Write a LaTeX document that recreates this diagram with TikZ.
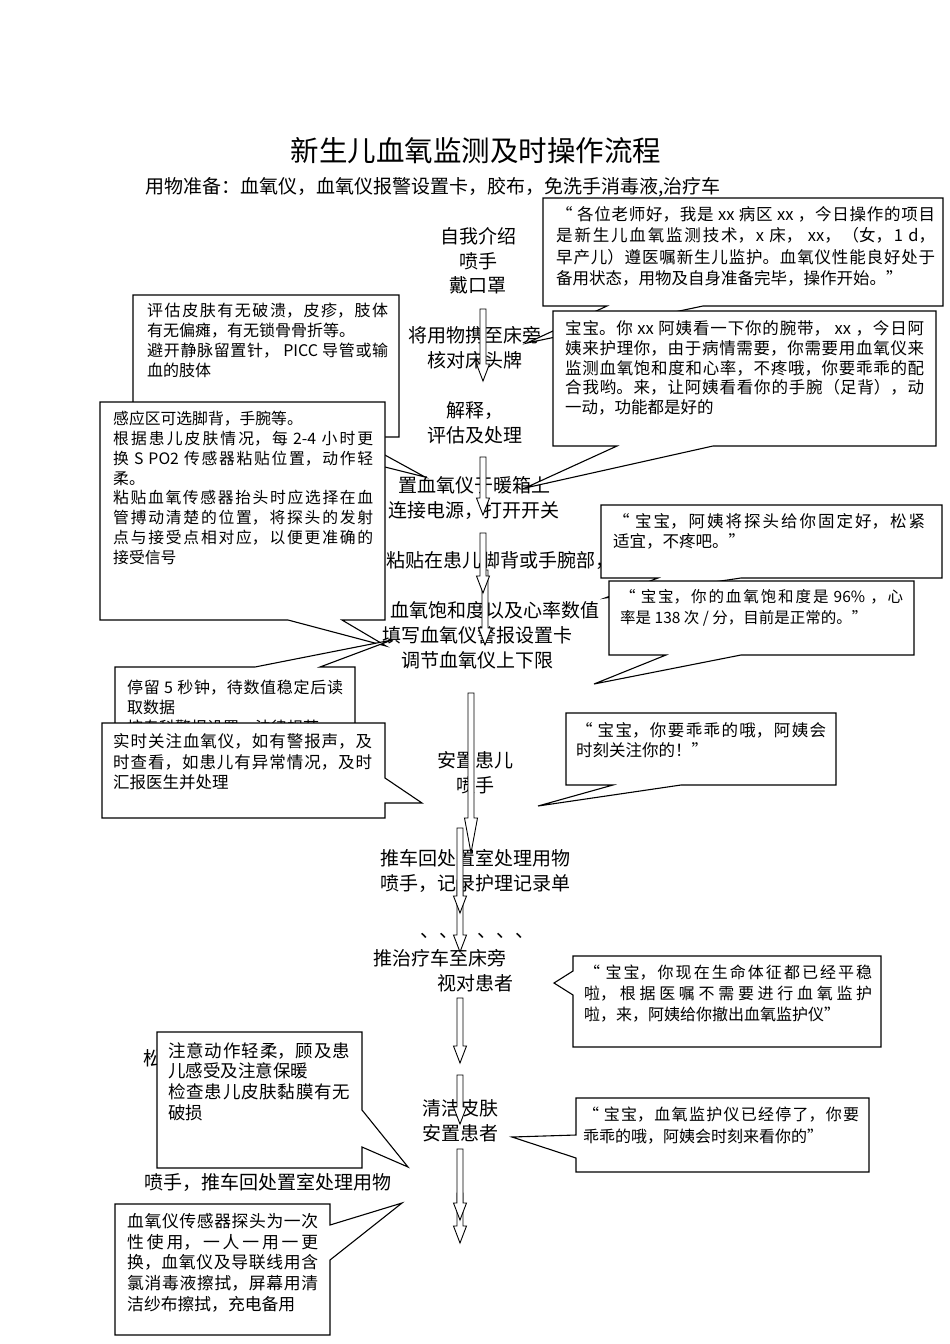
\documentclass[tikz,border=0pt]{standalone}
\usepackage{fontspec}
\setmainfont{Noto Sans CJK SC}
\XeTeXlinebreaklocale "zh"
\XeTeXlinebreakskip=0pt plus 2pt
\newcommand{\sayfont}[2]{\fontsize{#1}{#2}\selectfont}
% block arrow: [head length]{x}{top}{tip}
\newcommand{\flowarrow}[4][17]{%
  \draw[flowline] (#2-3,#3) -- (#2+3,#3) -- (#2+3,#4-#1) -- (#2+6.5,#4-#1)
    -- (#2,#4) -- (#2-6.5,#4-#1) -- (#2-3,#4-#1) -- cycle;}

\begin{document}
\begin{tikzpicture}[x=1pt,y=-1pt,
  steptext/.style={inner sep=0pt,align=center,anchor=north,font=\sayfont{19}{24.7}},
  saytext/.style={inner sep=0pt,anchor=north west,align=justify},
  callbox/.style={draw=black,line width=1.1pt,fill=white},
  flowline/.style={draw=black,line width=0.9pt,fill=white}]

\fill[white] (0,0) rectangle (950,1344);
\path[use as bounding box] (0,0) rectangle (950,1344);

\node[inner sep=0pt,anchor=north,font=\sayfont{28.5}{32}] (title) at (476,137)
  {新生儿血氧监测及时操作流程};
\node[inner sep=0pt,anchor=north west,font=\sayfont{19}{24}] (items) at (145,177.3)
  {用物准备：血氧仪，血氧仪报警设置卡，胶布，免洗手消毒液,治疗车};

% steps
\node[steptext,font=\sayfont{19}{24.5}] (intro) at (478,227.3) {自我介绍\\喷手\\戴口罩};
\node[steptext] (carry) at (475,326.3) {将用物携至床旁\\核对床头牌};
\node[steptext] (explain) at (475,401.3) {解释，\\评估及处理};
\node[steptext] (power) at (474,476.3) {置血氧仪于暖箱上\\连接电源，打开开关};
\node[steptext,anchor=north west] (stick) at (386,551.3) {粘贴在患儿脚背或手腕部，};
\node[steptext,anchor=north east] (read) at (600,601.3) {血氧饱和度以及心率数值};
\node[steptext] (limits) at (477,626.3) {填写血氧仪警报设置卡\\调节血氧仪上下限};
\node[steptext] (settle) at (475,751.3) {安置患儿\\喷手};
\node[steptext] (record) at (475,849.3) {推车回处置室处理用物\\喷手，记录护理记录单};
\node[steptext,anchor=base west] (pause) at (420,937) {、、、、、、};
\node[steptext,anchor=north west] (cart) at (373,949.3) {推治疗车至床旁};
\node[steptext,anchor=north west] (check) at (437,974.3) {视对患者};
\node[steptext,anchor=north west] (loosen) at (143,1049.3) {松};
\node[steptext] (clean) at (460,1099.3) {清洁皮肤\\安置患者};
\node[steptext] (finish) at (268,1173.3) {喷手，推车回处置室处理用物};

% arrows
\flowarrow{483}{309}{381}
\flowarrow{483}{457}{515}
\flowarrow{485}{570}{645}
\flowarrow{483}{533}{593}
\flowarrow[35]{471}{693}{853}
\flowarrow{460}{880}{952}
\flowarrow{460}{828}{913}
\flowarrow{460}{998}{1063}
\flowarrow{460}{1075}{1124}
\flowarrow{460}{1193}{1243}
\flowarrow{460}{1149}{1220}

% callouts
\coordinate (tipwelcome) at (527,343);
\coordinate (tipexplain) at (525,488);
\coordinate (tipskin) at (425,477);
\coordinate (tipsite) at (386,646);
\coordinate (tipwait) at (392,640);
\coordinate (tipwatch) at (422,803);
\coordinate (tipfix) at (605,598);
\coordinate (tipvalue) at (594,684);
\coordinate (tipgood) at (538,806);
\coordinate (tipstop) at (554,983);
\coordinate (tipgentle) at (408,1167);
\coordinate (tipbye) at (512,1137);
\coordinate (tipclean) at (402,1203);

\draw[callbox] (543,198) -- (943,198) -- (943,306) -- (703,306) -- (tipwelcome)
  -- (607,306) -- (543,306) -- cycle;
\node[saytext,text width=379pt,font=\sayfont{16.5}{21.3}] (welcome) at (556,206.4)
  {“ 各位老师好，我是 xx 病区 xx ，今日操作的项目\linebreak
是新生儿血氧监测技术，x 床， xx，（女，1 d，\linebreak
早产儿）遵医嘱新生儿监护。血氧仪性能良好处于\linebreak
备用状态，用物及自身准备完毕，操作开始。”};

\draw[callbox] (553,311) -- (936,311) -- (936,446) -- (713,446) -- (tipexplain)
  -- (617,446) -- (553,446) -- cycle;
\node[saytext,text width=359pt,font=\sayfont{16.5}{19.7}] (explaintalk) at (565,320.4)
  {宝宝。你 xx 阿姨看一下你的腕带， xx ，今日阿\linebreak
姨来护理你，由于病情需要，你需要用血氧仪来\linebreak
监测血氧饱和度和心率，不疼哦，你要乖乖的配\linebreak
合我哟。来，让阿姨看看你的手腕（足背），动\linebreak
一动，功能都是好的};

\draw[callbox] (133,295) -- (399,295) -- (399,437) -- (352,437) -- (tipskin)
  -- (265,437) -- (133,437) -- cycle;
\node[saytext,text width=241pt,font=\sayfont{16}{20}] (skinnote) at (147,302.6)
  {评估皮肤有无破溃，皮疹，肢体\linebreak
有无偏瘫，有无锁骨骨折等。\\
避开静脉留置针， PICC 导管或输\linebreak
血的肢体};

\draw[callbox] (100,402) -- (385,402) -- (385,620) -- (342,620) -- (tipsite)
  -- (288,620) -- (100,620) -- cycle;
\node[saytext,text width=260pt,font=\sayfont{15.8}{19.9}] (sitenote) at (113,410.7)
  {感应区可选脚背，手腕等。\\
根据患儿皮肤情况，每 2-4 小时更\linebreak
换 S PO2 传感器粘贴位置，动作轻\linebreak
柔。\\
粘贴血氧传感器抬头时应选择在血\linebreak
管搏动清楚的位置，将探头的发射\linebreak
点与接受点相对应，以便更准确的\linebreak
接受信号};

\draw[callbox] (115,667) -- (255,667) -- (tipwait) -- (320,667) -- (355,667)
  -- (355,790) -- (115,790) -- cycle;
\node[saytext,text width=216pt,font=\sayfont{16}{20}] (waitnote) at (127,679.6)
  {\parfillskip=0pt 停留 5 秒钟，待数值稳定后读\linebreak
取数据\\
按专科警报设置，法律规范};

\draw[callbox] (102,723) -- (385,723) -- (385,778) -- (tipwatch) -- (385,803)
  -- (385,818) -- (102,818) -- cycle;
\node[saytext,text width=259pt,font=\sayfont{16.5}{20.5}] (watchnote) at (113,733.4)
  {实时关注血氧仪，如有警报声，及\linebreak
时查看，如患儿有异常情况，及时\linebreak
汇报医生并处理};

\draw[callbox] (601,505) -- (942,505) -- (942,578) -- (741,578) -- (tipfix)
  -- (658,578) -- (601,578) -- cycle;
\node[saytext,text width=312pt,font=\sayfont{16.5}{20}] (fixtalk) at (613,513.4)
  {“ 宝宝，阿姨将探头给你固定好，松紧\linebreak
适宜，不疼吧。”};

\draw[callbox] (609,581) -- (914,581) -- (914,655) -- (741,655) -- (tipvalue)
  -- (666,655) -- (609,655) -- cycle;
\node[saytext,text width=283pt,font=\sayfont{15.5}{21}] (valuetalk) at (620,588.9)
  {“ 宝宝，你的血氧饱和度是 96\% ，心\linebreak
率是 138 次 / 分，目前是正常的。”};

\draw[callbox] (566,713) -- (836,713) -- (836,785) -- (681,785) -- (tipgood)
  -- (613,785) -- (566,785) -- cycle;
\node[saytext,text width=250pt,font=\sayfont{16.5}{19.5}] (goodtalk) at (576,722.4)
  {“ 宝宝，你要乖乖的哦，阿姨会\linebreak
时刻关注你的！”};

\draw[callbox] (573,956) -- (881,956) -- (881,1047) -- (573,1047) -- (573,995)
  -- (tipstop) -- (573,971) -- cycle;
\node[saytext,text width=288pt,font=\sayfont{16}{21}] (stoptalk) at (584,964.6)
  {“ 宝宝，你现在生命体征都已经平稳\linebreak
啦，根据医嘱不需要进行血氧监护\linebreak
啦，来，阿姨给你撤出血氧监护仪”};

\draw[callbox] (157,1032) -- (362,1032) -- (362,1110) -- (tipgentle) -- (362,1147)
  -- (362,1168) -- (157,1168) -- cycle;
\node[saytext,text width=182pt,font=\sayfont{17.5}{20.7}] (gentlenote) at (168,1042)
  {注意动作轻柔，顾及患\linebreak
儿感受及注意保暖\\
检查患儿皮肤黏膜有无\linebreak
破损};

\draw[callbox] (576,1098) -- (869,1098) -- (869,1172) -- (576,1172) -- (576,1158)
  -- (tipbye) -- (576,1135) -- cycle;
\node[saytext,text width=276pt,font=\sayfont{16}{22}] (byetalk) at (583,1106.6)
  {“ 宝宝，血氧监护仪已经停了，你要\linebreak
乖乖的哦，阿姨会时刻来看你的”};

\draw[callbox] (115,1204) -- (330,1204) -- (330,1225) -- (tipclean) -- (330,1260)
  -- (330,1335) -- (115,1335) -- cycle;
\node[saytext,text width=191pt,font=\sayfont{16.8}{20.7}] (cleannote) at (127,1213.2)
  {血氧仪传感器探头为一次\linebreak
性使用，一人一用一更\linebreak
换，血氧仪及导联线用含\linebreak
氯消毒液擦拭，屏幕用清\linebreak
洁纱布擦拭，充电备用};

\end{tikzpicture}
\end{document}
